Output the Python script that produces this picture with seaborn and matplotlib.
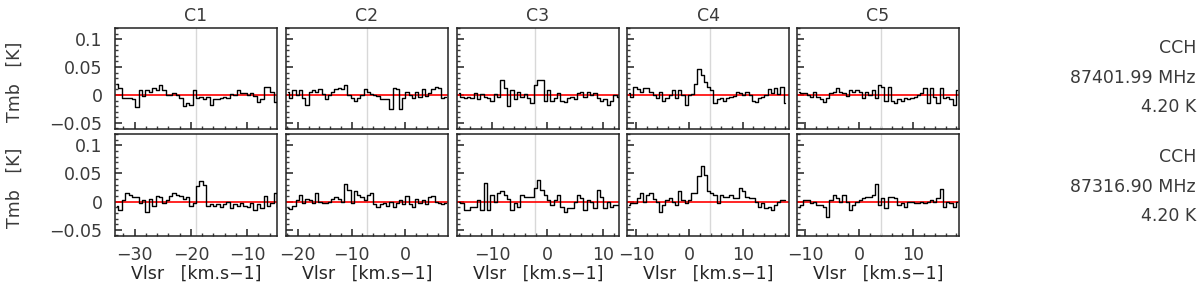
import numpy as np
import pandas as pd
import matplotlib
matplotlib.use("Agg")
import matplotlib.pyplot as plt
import seaborn as sns
from matplotlib.ticker import MultipleLocator

# source names and velocity windows (km/s)
sources = ["C1", "C2", "C3", "C4", "C5"]
v_sys = [-19.1, -7.2, -2.2, 3.8, 4.0]
v_min = [-33.5, -22.2, -16.3, -11.7, -11.5]
v_max = [-4.7, 7.9, 12.9, 18.7, 18.5]
chan_width = 0.6

# line labels (right-hand side)
species = ["CCH", "CCH"]
freqs = ["87401.99 MHz", "87316.90 MHz"]
eup = ["4.20 K", "4.20 K"]

# spectra, Tmb in mK, one list per source and line
c1_87401 = [20, 12, -6, -6, -6, -8, -22, 9, -2, 9, 5, 12, 8, 18, 8, 0, 0, 4, 0, -6,
            -20, -15, -18, 9, -6, -3, -8, -3, -18, -8, -8, -6, -3, -5, 2, 0, 9, 4, 4, 0,
            3, -2, -12, -8, 15, 14, 6, -12, 0, 2]
c2_87401 = [5, -5, 8, 0, 8, -5, -18, 5, 8, 6, 10, 2, -8, 0, 5, 10, 12, 10, 18, 0,
            -5, -10, -5, 0, 10, 6, 2, 0, -2, -8, -8, -8, -25, 13, 10, -25, -5, 5, 0, -5,
            5, -3, 10, -2, 3, 10, 15, 12, -5, -3]
c3_87401 = [3, -3, -5, -3, -5, 3, -8, 2, -3, -5, -10, 2, -3, 27, 12, -20, 9, -8, 5, -3,
            2, -5, -15, 18, 26, 26, -10, 9, -10, -6, 3, -10, -12, -6, -3, -8, 3, 5, -3, 5,
            0, 3, -5, -10, -8, -18, -10, 0, -3, 10]
c4_87401 = [3, -3, 15, 10, 5, 12, 12, 5, 0, -5, 5, -10, -5, 0, 8, -5, 8, 0, -18, 0,
            2, 20, 47, 35, 24, 15, 9, -15, -8, -5, -10, -5, -3, -2, 5, 3, 0, 5, 0, -10,
            -12, -5, -3, 0, 10, 3, 12, 2, 15, -15]
c5_87401 = [5, 3, 3, 0, -3, 5, -3, -8, -12, -5, 3, 5, 13, 5, 3, -2, 8, 5, 8, 5,
            -5, 5, 0, 8, -5, 18, 15, -10, 15, -10, -15, -8, -10, -5, -8, -5, -3, 0, 3, 13,
            -15, 13, -3, -15, 12, -5, -3, -8, -18, 8]

c1_87316 = [-8, -15, 3, 15, 12, 8, 8, -3, 3, -18, 5, -8, 10, 8, -3, 3, 10, 15, 12, 10,
            5, 8, -8, -3, 27, 37, 30, -8, -5, -8, -5, -10, -5, 0, -12, -5, -8, -3, -8, -10,
            -3, -15, -5, -12, 10, -8, -3, 15, -10, 8]
c2_87316 = [-12, -13, -8, 3, 12, -2, 5, 2, -2, 15, 0, -2, -3, 0, 5, 8, 5, 0, 32, 20,
            -2, 18, 12, 8, 3, 12, 15, -5, -10, -5, -3, -8, 0, -10, -3, 3, -5, 10, -5, -10,
            5, -3, 3, -5, 8, 10, 0, -3, -5, -3]
c3_87316 = [0, -3, -15, -15, -9, -9, 3, -15, 33, -15, 12, 0, 15, 18, 12, 5, -15, -3, -10, 12,
            9, 9, 9, 24, 38, 21, 12, 3, -6, 3, 12, -9, -18, -12, -12, 0, 12, 6, -15, 3,
            0, -12, 21, 9, -12, 0, -9, -6, -6, -3]
c4_87316 = [-6, -3, -3, 6, 16, 0, 12, 15, 5, 0, -18, -6, 3, 6, 0, -6, 18, 3, -3, 3,
            15, 15, 45, 63, 48, 18, 15, 12, -3, 12, 9, 9, 12, 6, 6, 25, 18, 9, 6, 6,
            0, -9, -3, -12, -9, -15, -6, 0, 3, 3]
c5_87316 = [-9, -6, 3, 3, -3, 0, -6, -6, -9, -27, 3, 12, 6, 0, 12, 0, -15, -6, 0, 3,
            6, 9, 8, 12, 31, -6, 6, -12, 8, 8, 6, -6, -3, -9, 0, 0, -3, -3, 0, -3,
            0, 3, 0, 6, 22, -9, 0, -3, -9, 0]

rows = [
    [c1_87401, c2_87401, c3_87401, c4_87401, c5_87401],
    [c1_87316, c2_87316, c3_87316, c4_87316, c5_87316],
]


def ytick_fmt(v, pos):
    if abs(v) < 1e-9:
        return "0"
    return f"{v:g}".replace("-", "\u2212")


sns.set_theme(style="ticks")
plt.rcParams["font.family"] = ["DejaVu Sans"]
text_col = "#3a3a3a"
plt.rcParams.update({
    "text.color": text_col,
    "xtick.color": text_col,
    "ytick.color": text_col,
    "axes.edgecolor": "#222222",
    "axes.linewidth": 1.1,
    "xtick.direction": "in",
    "ytick.direction": "in",
    "xtick.major.size": 5,
    "ytick.major.size": 5,
    "xtick.minor.size": 2.5,
    "ytick.minor.size": 2.5,
    "xtick.minor.visible": True,
    "ytick.minor.visible": True,
})

W, H = 1200, 293
fig = plt.figure(figsize=(12, 2.93), dpi=100)

lefts = [115, 286, 457, 627, 797]
pw = 162
row_tops = [28, 134]
row_h = [101, 102]

for r, row in enumerate(rows):
    for c, spec in enumerate(row):
        ax = fig.add_axes([lefts[c] / W, 1 - (row_tops[r] + row_h[r]) / H,
                           pw / W, row_h[r] / H])
        df = pd.DataFrame({
            "v": v_min[c] + chan_width * (np.arange(len(spec)) + 0.5),
            "t": np.array(spec) / 1000.0,
        })
        ax.axvline(v_sys[c], color="#d8d8d8", lw=1, zorder=1)
        ax.axhline(0, color="red", lw=1.2, zorder=2)
        sns.lineplot(data=df, x="v", y="t", ax=ax, drawstyle="steps-mid",
                     color="black", lw=1.0, zorder=3)
        ax.set_xlim(v_min[c], v_max[c])
        ax.set_ylim(-0.061, 0.12)
        ax.xaxis.set_major_locator(MultipleLocator(10))
        ax.xaxis.set_minor_locator(MultipleLocator(2))
        ax.yaxis.set_major_locator(MultipleLocator(0.05))
        ax.yaxis.set_minor_locator(MultipleLocator(0.01))
        ax.yaxis.set_major_formatter(ytick_fmt)
        ax.tick_params(axis="y", labelsize=12.5, pad=9)
        ax.tick_params(axis="x", labelsize=12.5, pad=7)
        ax.set_xlabel("")
        ax.set_ylabel("")
        if c > 0:
            ax.set_yticklabels([])
        if r == 0:
            ax.set_xticklabels([])
            ax.set_title(sources[c], fontsize=12.5, pad=5, color=text_col)
        else:
            ax.set_xlabel("Vlsr   [km.s\u22121]", fontsize=12.5, labelpad=1)

    yc = 1 - (row_tops[r] + row_h[r] / 2) / H
    fig.text(15 / W, yc - 0.01, "Tmb   [K]", rotation=90, ha="center", va="center",
             fontsize=12.5)
    base = [48, 157][r]
    for k, s in enumerate([species[r], freqs[r], eup[r]]):
        fig.text(1196 / W, 1 - (base + 29.5 * k) / H, s, ha="right", va="center",
                 fontsize=12.5)

fig.savefig("out.png", dpi=100)
